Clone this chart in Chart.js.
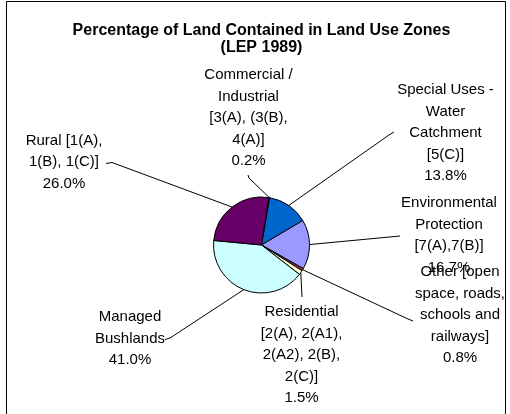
<!DOCTYPE html>
<html>
<head>
<meta charset="utf-8">
<script src="https://cdn.jsdelivr.net/npm/chart.js@4"></script>
<style>
  html, body { margin: 0; padding: 0; background: #ffffff; }
  #wrap { width: 510px; height: 414px; position: relative; }
</style>
</head>
<body>
<div id="wrap"><canvas id="c" width="510" height="414"></canvas></div>
<script>
// ---- data ----
const titleLines = ['Percentage of Land Contained in Land Use Zones', '(LEP 1989)'];
const categories = [
  'Commercial /\nIndustrial\n[3(A), (3(B),\n4(A)]',
  'Special Uses -\nWater\nCatchment\n[5(C)]',
  'Environmental\nProtection\n[7(A),7(B)]',
  'Other [open\nspace, roads,\nschools and\nrailways]',
  'Residential\n[2(A), 2(A1),\n2(A2), 2(B),\n2(C)]',
  'Managed\nBushlands',
  'Rural [1(A),\n1(B), 1(C)]'
];
const values = [0.2, 13.8, 16.7, 0.8, 1.5, 41.0, 26.0];
const sliceColors = ['#FF8080', '#0066CC', '#9999FF', '#993366', '#FFFFCC', '#CCFFFF', '#660066'];

// ---- label layout (text centre x, first line y, leader anchor / elbow) ----
const labelLayout = [
  { cx: 248.5, y: 75,  anchor: [248, 175], elbow: [249, 178] },
  { cx: 445.5, y: 90,  anchor: [394, 132], elbow: [389, 135] },
  { cx: 449,   y: 203, anchor: [400, 236], elbow: null },
  { cx: 460,   y: 272, anchor: [413, 321], elbow: [408, 319] },
  { cx: 301.5, y: 312, anchor: [302, 297], elbow: null },
  { cx: 130,   y: 317, anchor: [165, 339.5], elbow: [170, 338] },
  { cx: 64,    y: 140.5, anchor: [106, 163.5], elbow: [112, 162.5] }
];
const FONT = '"Liberation Sans", Arial, sans-serif';
const LINE_H = 21.5;

const decorPlugin = {
  id: 'decor',
  afterDatasetsDraw(chart) {
    const ctx = chart.ctx;
    ctx.save();
    // frame
    ctx.strokeStyle = '#000';
    ctx.lineWidth = 1;
    ctx.beginPath();
    ctx.moveTo(6.5, 420);
    ctx.lineTo(6.5, 1.5);
    ctx.lineTo(505.5, 1.5);
    ctx.lineTo(505.5, 420);
    ctx.stroke();

    // title
    ctx.fillStyle = '#000';
    ctx.textAlign = 'center';
    ctx.textBaseline = 'middle';
    ctx.font = 'bold 16px ' + FONT;
    ctx.fillText(titleLines[0], 261.5, 31);
    ctx.fillText(titleLines[1], 261.5, 48);

    // labels + leader lines
    const meta = chart.getDatasetMeta(0);
    ctx.font = '15px ' + FONT;
    meta.data.forEach((arc, i) => {
      const p = arc.getProps(['x', 'y', 'startAngle', 'endAngle', 'outerRadius'], true);
      const mid = (p.startAngle + p.endAngle) / 2;
      const ax = p.x + Math.cos(mid) * p.outerRadius;
      const ay = p.y + Math.sin(mid) * p.outerRadius;
      const L = labelLayout[i];
      ctx.beginPath();
      ctx.moveTo(L.anchor[0], L.anchor[1]);
      if (L.elbow) ctx.lineTo(L.elbow[0], L.elbow[1]);
      ctx.lineTo(ax, ay);
      ctx.stroke();
      const lines = categories[i].split('\n').concat([values[i].toFixed(1) + '%']);
      lines.forEach((t, k) => ctx.fillText(t, L.cx, L.y + k * LINE_H));
    });
    ctx.restore();
  }
};

new Chart(document.getElementById('c'), {
  type: 'pie',
  data: {
    labels: categories,
    datasets: [{
      data: values,
      backgroundColor: sliceColors,
      borderColor: '#000000',
      borderWidth: 1
    }]
  },
  options: {
    responsive: false,
    animation: false,
    devicePixelRatio: 1,
    rotation: 9,
    layout: { padding: { left: 213, right: 200, top: 196.5, bottom: 120.5 } },
    plugins: {
      legend: { display: false },
      title: { display: false },
      tooltip: { enabled: false }
    }
  },
  plugins: [decorPlugin]
});
</script>
</body>
</html>
